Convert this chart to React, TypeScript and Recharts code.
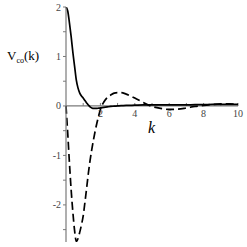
import React from 'react';
import { LineChart, Line, XAxis, YAxis, ReferenceLine, ReferenceDot } from 'recharts';

const kValues = [0, 0.1, 0.2, 0.3, 0.4, 0.5, 0.6, 0.7, 0.8, 0.9, 1.0, 1.1, 1.2, 1.3, 1.4, 1.5, 1.6, 1.7, 1.8, 1.9, 2.0, 2.2, 2.4, 2.6, 2.8, 3.0, 3.2, 3.5, 4.0, 4.5, 5.0, 5.5, 6.0, 6.5, 7.0, 7.5, 8.0, 8.5, 9.0, 9.5, 10];
const solidValues = [2.0, 1.92, 1.68, 1.4, 1.08, 0.8, 0.52, 0.36, 0.26, 0.2, 0.16, 0.11, 0.06, 0.02, -0.02, -0.04, -0.05, -0.05, -0.05, -0.045, -0.04, -0.03, -0.02, -0.01, -0.005, 0.0, 0.005, 0.01, 0.015, 0.02, 0.02, 0.02, 0.02, 0.02, 0.02, 0.025, 0.025, 0.03, 0.03, 0.03, 0.03];
const dashedValues = [0, -0.55, -1.15, -1.7, -2.15, -2.52, -2.74, -2.68, -2.55, -2.4, -2.22, -1.95, -1.66, -1.36, -1.1, -0.88, -0.68, -0.5, -0.34, -0.2, -0.07, 0.08, 0.17, 0.22, 0.26, 0.27, 0.27, 0.24, 0.16, 0.07, -0.01, -0.05, -0.07, -0.065, -0.04, -0.01, 0.01, 0.03, 0.04, 0.04, 0.035];
const yTicks = [-2.5, -2, -1.5, -1, -0.5, 0, 0.5, 1, 1.5, 2];
const xTickMarks = [1, 2, 3, 4, 5, 6, 7, 8, 9, 10];
const xTickLabels = [2, 4, 6, 8, 10];

const data = kValues.map((k, i) => ({ k, solid: solidValues[i], dashed: dashedValues[i] }));

const AXIS = '#7a7a7a';
const FONT = '"Liberation Serif", "DejaVu Serif", serif';

export default function App() {
  return (
    <div style={{ position: 'absolute', left: 0, top: 0, width: 247, height: 247, background: '#fff' }}>
      <LineChart width={247} height={247} data={data} margin={{ top: 7, right: 9, bottom: 5, left: 6 }}>
        <XAxis type="number" dataKey="k" domain={[0, 10]} hide />
        <YAxis
          type="number"
          domain={[-2.75, 2]}
          ticks={yTicks}
          allowDataOverflow
          width={60}
          stroke={AXIS}
          tickSize={3}
          tickLine={{ stroke: AXIS }}
          axisLine={{ stroke: AXIS, strokeWidth: 1.2 }}
          tick={{ fontSize: 10, fill: '#444', fontFamily: FONT }}
          tickFormatter={(v: number) => (Number.isInteger(v) ? String(v) : '')}
        />
        <ReferenceLine y={0} stroke={AXIS} strokeWidth={1.2} />
        {xTickMarks.map((t) => (
          <ReferenceLine key={'m' + t} segment={[{ x: t, y: 0 }, { x: t, y: 0.06 }]} stroke={AXIS} />
        ))}
        {xTickLabels.map((t) => (
          <ReferenceDot
            key={'l' + t}
            x={t}
            y={0}
            r={0}
            fill="none"
            stroke="none"
            label={{ value: String(t), position: 'bottom', offset: 4, fontSize: 10, fill: '#444', fontFamily: FONT }}
          />
        ))}
        <Line type="monotone" dataKey="solid" stroke="#000" strokeWidth={1.7} dot={false} isAnimationActive={false} />
        <Line type="monotone" dataKey="dashed" stroke="#000" strokeWidth={1.7} strokeDasharray="8 4" dot={false} isAnimationActive={false} />
      </LineChart>
      <div style={{ position: 'absolute', left: 7, top: 48, fontFamily: FONT, fontSize: 13, color: '#000', whiteSpace: 'nowrap' }}>
        V<sub style={{ fontSize: 8, verticalAlign: 'baseline', position: 'relative', top: 3 }}>co</sub>(k)
      </div>
      <div style={{ position: 'absolute', left: 148, top: 119, fontFamily: FONT, fontSize: 16, fontStyle: 'italic', color: '#000' }}>
        k
      </div>
    </div>
  );
}
